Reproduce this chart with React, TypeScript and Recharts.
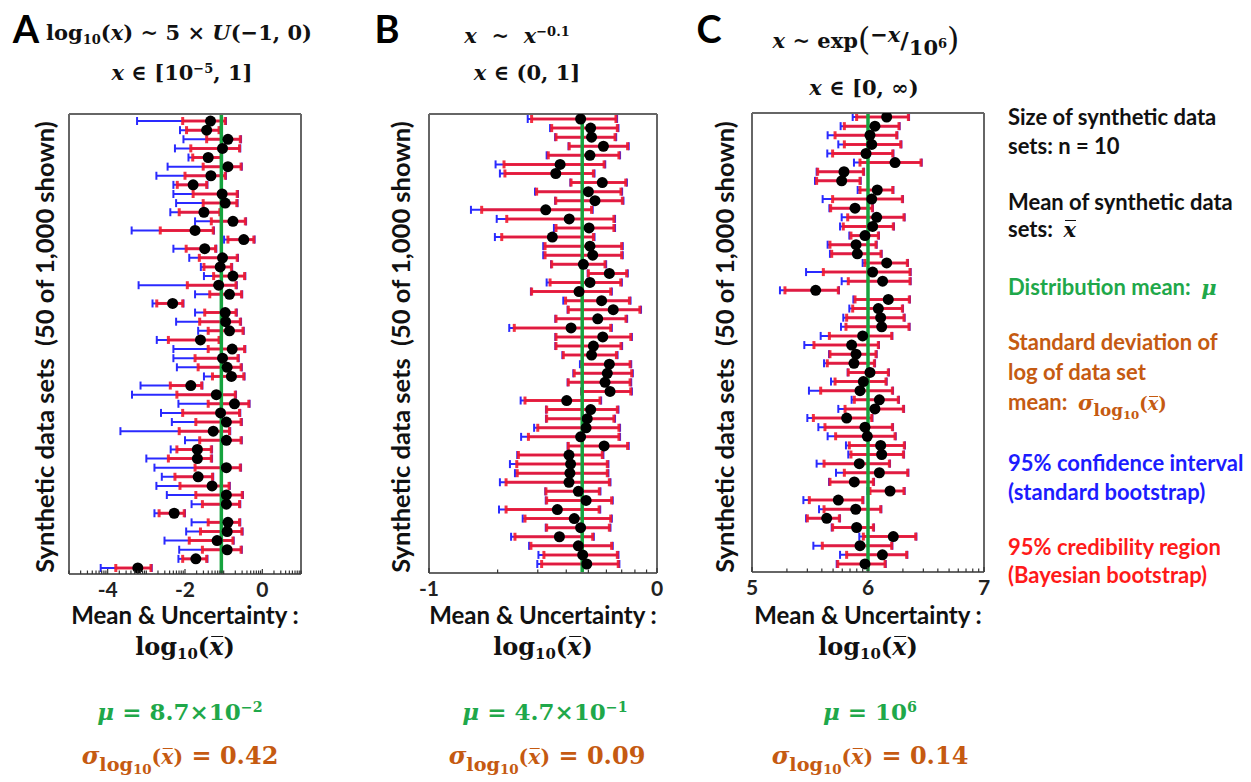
import React from 'react';
import { ScatterChart, Scatter, XAxis, YAxis, ErrorBar, ReferenceLine } from 'recharts';

// ---------- Panel A : log10 of mean ----------
const aMean = [-1.34, -1.44, -0.89, -1.03, -1.40, -0.89, -1.33, -1.79, -1.04, -0.96, -1.51, -0.76, -1.74, -0.48, -1.49, -1.03, -1.09, -0.76, -1.13, -0.85, -2.32, -0.96, -0.95, -0.85, -1.60, -0.78, -1.03, -0.91, -0.80, -1.85, -1.19, -0.72, -1.08, -0.93, -1.27, -0.93, -1.68, -1.68, -0.93, -1.66, -1.30, -0.93, -0.93, -2.28, -0.89, -0.91, -1.17, -0.91, -1.72, -3.22];
const aBlueLo = [-3.24, -2.13, -2.04, -2.26, -1.91, -2.45, -2.74, -2.30, -2.30, -2.23, -2.38, -1.74, -3.38, -0.99, -2.30, -1.89, -1.59, -1.51, -3.20, -1.74, -2.84, -1.74, -2.23, -1.66, -2.73, -2.30, -2.30, -2.21, -1.51, -3.15, -3.37, -2.17, -2.62, -2.34, -3.67, -2.00, -2.37, -3.00, -2.79, -2.60, -2.74, -2.47, -1.83, -2.79, -1.83, -1.97, -2.53, -2.15, -2.17, -4.18];
const aRedLo = [-2.06, -1.96, -1.44, -1.85, -1.80, -1.53, -2.00, -2.20, -1.79, -1.53, -2.15, -1.32, -2.64, -0.89, -1.97, -1.63, -1.51, -1.26, -1.94, -1.36, -2.73, -1.49, -1.62, -1.40, -2.43, -1.40, -1.74, -1.66, -1.29, -2.38, -2.21, -1.40, -2.06, -1.72, -2.15, -1.62, -2.21, -2.43, -1.74, -2.26, -2.13, -1.72, -1.55, -2.67, -1.40, -1.60, -1.89, -1.55, -2.06, -3.79];
const aRedHi = [-0.96, -1.12, -0.57, -0.59, -1.06, -0.55, -0.96, -1.44, -0.65, -0.66, -1.10, -0.44, -1.27, -0.22, -1.21, -0.65, -0.80, -0.46, -0.68, -0.54, -2.06, -0.68, -0.57, -0.50, -1.12, -0.46, -0.63, -0.55, -0.48, -1.57, -0.70, -0.35, -0.59, -0.55, -0.85, -0.55, -1.32, -1.32, -0.57, -1.29, -0.86, -0.52, -0.59, -2.02, -0.59, -0.53, -0.76, -0.55, -1.44, -2.88];
const aBlueHi = [-0.94, -1.10, -0.55, -0.57, -1.04, -0.53, -0.94, -1.42, -0.63, -0.64, -1.08, -0.42, -1.25, -0.20, -1.19, -0.63, -0.78, -0.44, -0.66, -0.52, -2.04, -0.66, -0.55, -0.48, -1.10, -0.44, -0.61, -0.53, -0.46, -1.55, -0.68, -0.33, -0.57, -0.53, -0.83, -0.53, -1.30, -1.30, -0.55, -1.27, -0.84, -0.50, -0.57, -2.00, -0.57, -0.51, -0.74, -0.53, -1.42, -2.86];

// ---------- Panel B ----------
const bMean = [-0.335, -0.291, -0.287, -0.235, -0.294, -0.425, -0.444, -0.240, -0.301, -0.272, -0.488, -0.385, -0.298, -0.459, -0.294, -0.282, -0.323, -0.209, -0.294, -0.342, -0.243, -0.192, -0.260, -0.377, -0.238, -0.279, -0.287, -0.209, -0.218, -0.228, -0.206, -0.396, -0.291, -0.306, -0.311, -0.335, -0.232, -0.386, -0.379, -0.382, -0.386, -0.345, -0.311, -0.437, -0.363, -0.335, -0.428, -0.345, -0.326, -0.308];
const bBlueLo = [-0.567, -0.469, -0.447, -0.388, -0.484, -0.708, -0.689, -0.380, -0.535, -0.447, -0.816, -0.703, -0.452, -0.711, -0.499, -0.499, -0.465, -0.304, -0.484, -0.553, -0.411, -0.392, -0.446, -0.648, -0.446, -0.446, -0.415, -0.338, -0.367, -0.392, -0.333, -0.598, -0.487, -0.487, -0.539, -0.596, -0.392, -0.613, -0.645, -0.623, -0.689, -0.490, -0.488, -0.693, -0.589, -0.488, -0.640, -0.561, -0.520, -0.525];
const bRedLo = [-0.550, -0.462, -0.443, -0.385, -0.477, -0.671, -0.667, -0.377, -0.528, -0.444, -0.769, -0.659, -0.443, -0.681, -0.491, -0.491, -0.462, -0.301, -0.469, -0.550, -0.401, -0.389, -0.443, -0.626, -0.443, -0.443, -0.411, -0.330, -0.363, -0.389, -0.330, -0.579, -0.484, -0.484, -0.523, -0.564, -0.389, -0.608, -0.615, -0.613, -0.662, -0.487, -0.484, -0.662, -0.579, -0.484, -0.623, -0.553, -0.496, -0.506];
const bRedHi = [-0.180, -0.174, -0.184, -0.129, -0.167, -0.232, -0.279, -0.137, -0.158, -0.152, -0.287, -0.189, -0.189, -0.279, -0.155, -0.155, -0.228, -0.133, -0.159, -0.203, -0.121, -0.075, -0.136, -0.203, -0.115, -0.158, -0.178, -0.118, -0.111, -0.118, -0.115, -0.250, -0.174, -0.189, -0.167, -0.167, -0.129, -0.240, -0.218, -0.218, -0.209, -0.253, -0.199, -0.254, -0.203, -0.209, -0.282, -0.199, -0.174, -0.170];
const bBlueHi = [-0.175, -0.169, -0.179, -0.124, -0.162, -0.227, -0.274, -0.132, -0.153, -0.147, -0.282, -0.184, -0.184, -0.274, -0.150, -0.150, -0.223, -0.128, -0.154, -0.198, -0.116, -0.070, -0.131, -0.198, -0.110, -0.153, -0.173, -0.113, -0.106, -0.113, -0.110, -0.245, -0.169, -0.184, -0.162, -0.162, -0.124, -0.235, -0.213, -0.213, -0.204, -0.248, -0.194, -0.249, -0.198, -0.204, -0.277, -0.194, -0.169, -0.165];

// ---------- Panel C ----------
const cMean = [6.161, 6.060, 6.017, 6.032, 5.983, 6.233, 5.793, 5.773, 6.080, 6.032, 5.888, 6.075, 6.040, 5.974, 5.897, 5.908, 6.161, 6.040, 6.126, 5.549, 6.175, 6.089, 6.109, 6.118, 5.954, 5.859, 5.897, 5.879, 6.017, 5.960, 5.931, 6.098, 6.060, 5.816, 5.974, 5.994, 6.109, 6.118, 5.925, 6.098, 5.882, 6.190, 5.744, 5.894, 5.644, 5.902, 6.218, 5.931, 6.124, 5.974];
const cBlueLo = [5.868, 5.764, 5.652, 5.744, 5.649, 5.879, 5.557, 5.543, 5.911, 5.609, 5.667, 5.773, 5.759, 5.839, 5.652, 5.672, 5.954, 5.466, 5.773, 5.241, 5.874, 5.839, 5.787, 5.767, 5.592, 5.451, 5.664, 5.621, 5.825, 5.681, 5.491, 5.859, 5.744, 5.477, 5.572, 5.652, 5.810, 5.830, 5.557, 5.724, 5.664, 5.995, 5.443, 5.578, 5.466, 5.687, 5.925, 5.529, 5.759, 5.730];
const cRedLo = [5.902, 5.796, 5.716, 5.796, 5.695, 5.931, 5.566, 5.557, 5.931, 5.695, 5.678, 5.825, 5.787, 5.853, 5.672, 5.687, 5.974, 5.615, 5.830, 5.284, 5.888, 5.868, 5.816, 5.810, 5.667, 5.534, 5.672, 5.649, 5.830, 5.716, 5.592, 5.882, 5.802, 5.529, 5.629, 5.721, 5.839, 5.853, 5.621, 5.796, 5.672, 6.017, 5.494, 5.621, 5.477, 5.695, 5.960, 5.606, 5.816, 5.739];
const cRedHi = [6.348, 6.267, 6.247, 6.282, 6.213, 6.457, 5.960, 5.931, 6.213, 6.296, 6.037, 6.310, 6.218, 6.089, 6.069, 6.112, 6.339, 6.362, 6.362, 5.744, 6.356, 6.296, 6.310, 6.353, 6.204, 6.089, 6.069, 6.055, 6.175, 6.155, 6.210, 6.261, 6.305, 6.032, 6.210, 6.233, 6.313, 6.305, 6.184, 6.342, 6.046, 6.310, 5.954, 6.109, 5.753, 6.046, 6.411, 6.204, 6.333, 6.147];
const cBlueHi = [6.354, 6.273, 6.253, 6.288, 6.219, 6.463, 5.966, 5.937, 6.219, 6.302, 6.043, 6.316, 6.224, 6.095, 6.075, 6.118, 6.345, 6.368, 6.368, 5.750, 6.362, 6.302, 6.316, 6.359, 6.210, 6.095, 6.075, 6.061, 6.181, 6.161, 6.216, 6.267, 6.311, 6.038, 6.216, 6.239, 6.319, 6.311, 6.190, 6.348, 6.052, 6.316, 5.960, 6.115, 5.759, 6.052, 6.417, 6.210, 6.339, 6.153];

// distribution means (log10)
const muLog = [-1.06, -0.328, 6.0];
// axis majors
const aMajors = [-4, -2, 0];
const bMajors = [-1, 0];
const cMajors = [5, 6, 7];
const aDecades = [-5, -4, -3, -2, -1, 0, 1];
const bDecades = [-1, 0];
const cDecades = [5, 6, 7];

const GREEN = '#1fa84a';
const ORANGE = '#c55a11';
const BLUE = '#1c1cff';
const RED = '#ff1a1a';
const SANS = "Lato, 'Open Sans', sans-serif";
const MATH = "'DejaVu Serif', 'Liberation Serif', serif";

function buildRows(mean: number[], bLo: number[], rLo: number[], rHi: number[], bHi: number[]) {
  return mean.map((m, i) => ({ row: i + 1, mean: m, bLo: bLo[i], rLo: rLo[i], rHi: rHi[i], bHi: bHi[i] }));
}

function logTicks(decades: number[]) {
  const t: number[] = [];
  decades.forEach((d, i) => {
    t.push(d);
    if (i < decades.length - 1) {
      for (let k = 2; k <= 9; k++) t.push(d + Math.log10(k));
    }
  });
  return t;
}

function isMajor(v: number, majors: number[]) {
  return majors.some((m) => Math.abs(m - v) < 1e-6);
}

function makeBottomTick(majors: number[]) {
  return (props: any) => {
    const { x, y, payload } = props;
    const major = isMajor(payload.value, majors);
    const lab = major ? String(Math.round(payload.value)) : '';
    return (
      <g>
        <line x1={x} x2={x} y1={y} y2={y - (major ? 5 : 3.5)} stroke="#333" strokeWidth={1.2} />
        {major && (
          <text x={x} y={y + 23} textAnchor="middle" fontFamily={SANS} fontWeight={700} fontSize={21} fill="#222">
            {lab}
          </text>
        )}
      </g>
    );
  };
}

const TopTick = (props: any) => {
  const { x, y } = props;
  return <line x1={x} x2={x} y1={y} y2={y + 3.5} stroke="#333" strokeWidth={1.2} />;
};

const Dot = (props: any) => <circle cx={props.cx} cy={props.cy} r={5.5} fill="#000" />;

type PanelProps = {
  rows: any[];
  domain: [number, number];
  yDomain: [number, number];
  majors: number[];
  decades: number[];
  mu: number;
  left: number;
  top: number;
  width: number;
  height: number;
};

const FRAME = { stroke: '#666', strokeWidth: 2 };

function Panel(p: PanelProps) {
  const ticks = logTicks(p.decades).filter((v) => v >= p.domain[0] - 1e-9 && v <= p.domain[1] + 1e-9);
  return (
    <div style={{ position: 'absolute', left: p.left, top: p.top }}>
      <ScatterChart width={p.width} height={p.height} margin={{ top: 9, right: 9, left: 9, bottom: 0 }}>
        <XAxis
          xAxisId={0}
          type="number"
          dataKey="mean"
          domain={p.domain}
          allowDataOverflow
          ticks={ticks}
          interval={0}
          height={30}
          tickSize={0}
          tickMargin={0}
          tick={makeBottomTick(p.majors)}
          axisLine={FRAME}
          tickLine={false}
        />
        <XAxis
          xAxisId="top"
          orientation="top"
          type="number"
          domain={p.domain}
          allowDataOverflow
          ticks={ticks}
          interval={0}
          height={1}
          tickSize={0}
          tickMargin={0}
          tick={TopTick}
          axisLine={FRAME}
          tickLine={false}
        />
        <YAxis
          yAxisId={0}
          type="number"
          dataKey="row"
          domain={p.yDomain}
          reversed
          allowDataOverflow
          width={1}
          tick={false}
          tickLine={false}
          axisLine={FRAME}
        />
        <YAxis
          yAxisId="r"
          orientation="right"
          type="number"
          domain={p.yDomain}
          reversed
          width={1}
          tick={false}
          tickLine={false}
          axisLine={FRAME}
        />
        <Scatter data={p.rows} xAxisId={0} yAxisId={0} shape={Dot} isAnimationActive={false}>
          <ErrorBar
            direction="x"
            dataKey={(d: any) => [d.mean - d.bLo, d.bHi - d.mean]}
            stroke="#2a2aff"
            strokeWidth={2}
            width={4}
            isAnimationActive={false}
          />
          <ErrorBar
            direction="x"
            dataKey={(d: any) => [d.mean - d.rLo, d.rHi - d.mean]}
            stroke="#f2182e"
            strokeOpacity={0.9}
            strokeWidth={3}
            width={4}
            isAnimationActive={false}
          />
        </Scatter>
        <ReferenceLine x={p.mu} xAxisId={0} yAxisId={0} stroke="#16a33e" strokeWidth={3.5} ifOverflow="hidden" />
      </ScatterChart>
    </div>
  );
}

const abs = (x: number, y: number, extra: React.CSSProperties = {}): React.CSSProperties => ({
  position: 'absolute',
  left: x,
  top: y,
  transform: 'translate(-50%, -50%)',
  whiteSpace: 'pre',
  lineHeight: 1,
  ...extra,
});

const mathStyle: React.CSSProperties = { fontFamily: MATH, fontWeight: 700, color: '#111' };
const sansB: React.CSSProperties = { fontFamily: SANS, fontWeight: 700, color: '#111' };
const subS: React.CSSProperties = { fontSize: '0.62em', position: 'relative', top: '0.3em', verticalAlign: 'baseline' };
const supS: React.CSSProperties = { fontSize: '0.62em', position: 'relative', top: '-0.55em', verticalAlign: 'baseline' };

const XBar = () => (
  <span style={{ position: 'relative', display: 'inline-block' }}>
    <span style={{ position: 'absolute', left: '0.08em', right: '0.02em', top: '0.05em', borderTop: '0.07em solid currentColor' }} />
    <i>x</i>
  </span>
);

const SigmaLabel = ({ value, size }: { value: string; size: number }) => (
  <span style={{ ...mathStyle, color: ORANGE, fontSize: size }}>
    <i>σ</i>
    <span style={{ fontSize: '0.8em', position: 'relative', top: '0.35em' }}>
      log<span style={{ fontSize: '0.7em', position: 'relative', top: '0.25em' }}>10</span>
    </span>
    <span style={{ fontSize: '0.85em' }}>
      (<XBar />)
    </span>{value}
  </span>
);

const Log10XBar = ({ size }: { size: number }) => (
  <span style={{ ...mathStyle, fontSize: size }}>
    log<span style={subS}>10</span>(<XBar />)
  </span>
);

export default function App() {
  const rowsA = buildRows(aMean, aBlueLo, aRedLo, aRedHi, aBlueHi);
  const rowsB = buildRows(bMean, bBlueLo, bRedLo, bRedHi, bBlueHi);
  const rowsC = buildRows(cMean, cBlueLo, cRedLo, cRedHi, cBlueHi);

  const yLabel = 'Synthetic data sets  (50 of 1,000 shown)';
  const centersX = [185, 543, 868];
  const LEG = 22;

  return (
    <div style={{ position: 'absolute', left: 0, top: 0, width: 1251, height: 782, background: '#fff', overflow: 'hidden' }}>
      {/* panel letters */}
      <div style={abs(26, 28, { ...sansB, fontSize: 38, color: '#000' })}>A</div>
      <div style={abs(387, 28, { ...sansB, fontSize: 38, color: '#000' })}>B</div>
      <div style={abs(709, 28, { ...sansB, fontSize: 38, color: '#000' })}>C</div>

      {/* titles */}
      <div style={abs(179, 32, { ...mathStyle, fontSize: 21 })}>
        log<span style={subS}>10</span>(<i>x</i>) ~ 5 × <i>U</i>(−1, 0)
      </div>
      <div style={abs(182, 72, { ...mathStyle, fontSize: 21 })}>
        <i>x</i> ∈ [10<span style={supS}>−5</span>, 1]
      </div>
      <div style={abs(517, 35, { ...mathStyle, fontSize: 21 })}>
        <i>x</i>{'  ~  '}<i>x</i>
        <span style={supS}>−0.1</span>
      </div>
      <div style={abs(527, 72, { ...mathStyle, fontSize: 21 })}>
        <i>x</i> ∈ (0, 1]
      </div>
      <div style={abs(866, 38, { ...mathStyle, fontSize: 21 })}>
        <i>x</i> ~ exp<span style={{ fontSize: '1.5em', fontWeight: 400, position: 'relative', top: '0.05em' }}>(</span>
        <span style={{ position: 'relative', top: '-0.3em' }}>−<i>x</i></span>
        <span style={{ fontSize: '1.1em' }}>/</span>
        <span style={{ position: 'relative', top: '0.35em' }}>10<span style={supS}>6</span></span>
        <span style={{ fontSize: '1.5em', fontWeight: 400, position: 'relative', top: '0.05em' }}>)</span>
      </div>
      <div style={abs(864, 87, { ...mathStyle, fontSize: 21 })}>
        <i>x</i> ∈ [0, ∞)
      </div>

      {/* y labels */}
      <div style={abs(45, 347, { ...sansB, fontSize: 25.5, transform: 'translate(-50%, -50%) rotate(-90deg)' })}>{yLabel}</div>
      <div style={abs(401, 347, { ...sansB, fontSize: 25.5, transform: 'translate(-50%, -50%) rotate(-90deg)' })}>{yLabel}</div>
      <div style={abs(725, 347, { ...sansB, fontSize: 25.5, transform: 'translate(-50%, -50%) rotate(-90deg)' })}>{yLabel}</div>

      <Panel rows={rowsA} domain={[-5, 1]} yDomain={[0.23, 50.66]} majors={aMajors} decades={aDecades} mu={muLog[0]} left={59} top={104} width={252} height={500} />
      <Panel rows={rowsB} domain={[-1, 0]} yDomain={[0.45, 50.99]} majors={bMajors} decades={bDecades} mu={muLog[1]} left={419} top={104} width={248} height={499} />
      <Panel rows={rowsC} domain={[5, 7]} yDomain={[0.56, 50.88]} majors={cMajors} decades={cDecades} mu={muLog[2]} left={742} top={103} width={252} height={499} />

      {/* x labels */}
      {centersX.map((cx, i) => (
        <React.Fragment key={i}>
          <div style={abs(cx, 615, { ...sansB, fontSize: 24 })}>Mean &amp; Uncertainty :</div>
          <div style={abs(cx, 647, {})}>
            <Log10XBar size={24} />
          </div>
        </React.Fragment>
      ))}

      {/* bottom stats */}
      <div style={abs(180, 711, { ...mathStyle, color: GREEN, fontSize: 23 })}>
        <i>μ</i> = 8.7×10<span style={supS}>−2</span>
      </div>
      <div style={abs(545, 711, { ...mathStyle, color: GREEN, fontSize: 23 })}>
        <i>μ</i> = 4.7×10<span style={supS}>−1</span>
      </div>
      <div style={abs(870, 711, { ...mathStyle, color: GREEN, fontSize: 23 })}>
        <i>μ</i> = 10<span style={supS}>6</span>
      </div>
      <div style={abs(180, 756, {})}>
        <SigmaLabel value=" = 0.42" size={24} />
      </div>
      <div style={abs(547, 756, {})}>
        <SigmaLabel value=" = 0.09" size={24} />
      </div>
      <div style={abs(870, 756, {})}>
        <SigmaLabel value=" = 0.14" size={24} />
      </div>

      {/* right legend */}
      {[
        { t: 'Size of synthetic data', y: 117, c: '#111' },
        { t: 'sets: n = 10', y: 146, c: '#111' },
        { t: 'Mean of synthetic data', y: 202, c: '#111' },
        { t: 'Distribution mean:  ', y: 287, c: GREEN },
        { t: 'Standard deviation of', y: 342, c: ORANGE },
        { t: 'log of data set', y: 372, c: ORANGE },
        { t: '95% confidence interval', y: 463, c: BLUE },
        { t: '(standard bootstrap)', y: 492, c: BLUE },
        { t: '95% credibility region', y: 547, c: RED },
        { t: '(Bayesian bootstrap)', y: 575, c: RED },
      ].map((r, i) => (
        <div key={i} style={{ position: 'absolute', left: 1008, top: r.y, transform: 'translateY(-50%)', whiteSpace: 'pre', lineHeight: 1, ...sansB, fontSize: LEG, color: r.c }}>
          {r.t}
          {r.t.startsWith('Distribution') && (
            <span style={{ ...mathStyle, color: GREEN, fontSize: 21 }}>
              <i>μ</i>
            </span>
          )}
        </div>
      ))}
      <div style={{ position: 'absolute', left: 1008, top: 229, transform: 'translateY(-50%)', whiteSpace: 'pre', lineHeight: 1, ...sansB, fontSize: LEG }}>
        {'sets:  '}
        <span style={{ ...mathStyle, fontSize: 21 }}>
          <XBar />
        </span>
      </div>
      <div style={{ position: 'absolute', left: 1008, top: 402, transform: 'translateY(-50%)', whiteSpace: 'pre', lineHeight: 1, ...sansB, fontSize: LEG, color: ORANGE }}>
        {'mean:  '}
        <SigmaLabel value="" size={21} />
      </div>
    </div>
  );
}
